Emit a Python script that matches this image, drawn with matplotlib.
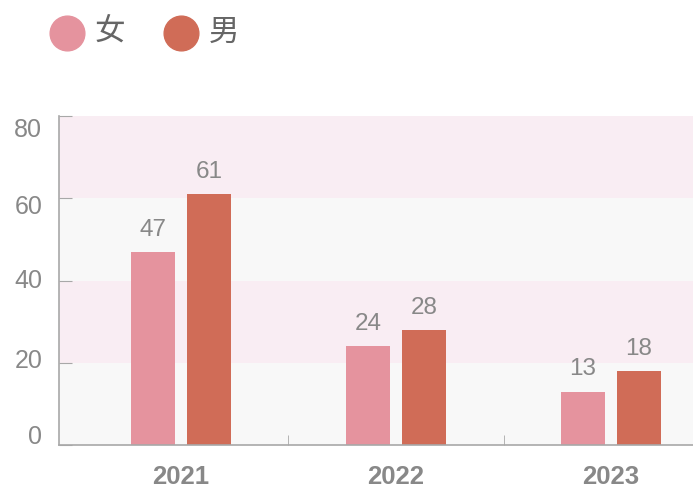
import matplotlib.pyplot as plt
import numpy as np
from matplotlib.lines import Line2D
from matplotlib.transforms import offset_copy

plt.rcParams['font.family'] = ['Liberation Sans', 'Noto Sans CJK SC', 'DejaVu Sans']

years = ['2021', '2022', '2023']
female = [47, 24, 13]
male = [61, 28, 18]
series_names = ['女', '男']
colors = ['#e5939e', '#d06c57']
yticks = [0, 20, 40, 60, 80]

text_gray = '#888888'
axis_gray = '#a8a8a8'

W, H = 693, 488
fig = plt.figure(figsize=(W / 100, H / 100), dpi=100)
ax = fig.add_axes([59 / W, 43 / H, 634 / W, 329 / H])

x = np.arange(len(years))
w = 0.205
off = 0.13

# alternating background bands
for i, lo in enumerate(yticks[:-1]):
    ax.axhspan(lo, lo + 20, color='#f8f8f8' if i % 2 == 0 else '#f9edf3', zorder=0, lw=0)

b1 = ax.bar(x - off, female, w, color=colors[0], zorder=2)
b2 = ax.bar(x + off, male, w, color=colors[1], zorder=2)

for bars, vals in ((b1, female), (b2, male)):
    for b, v in zip(bars, vals):
        ax.annotate(str(v), (b.get_x() + b.get_width() / 2, v), xytext=(0, 8),
                    textcoords='offset points', ha='center', va='bottom',
                    fontsize=17.5, color=text_gray)

ax.set_xlim(-0.567, 2.381)
ax.set_ylim(0, 80)
ax.set_yticks(yticks)
ax.set_yticklabels([])
ax.tick_params(axis='y', direction='in', length=9, color=axis_gray)

# y labels are nudged toward the middle like in the original
nudge = [-6, -1, 0, 6, 10]  # points, negative = up
for v, d in zip(yticks, nudge):
    tr = offset_copy(ax.get_yaxis_transform(), fig=fig, x=-12, y=-d, units='points')
    ax.text(0, v, str(v), transform=tr, ha='right', va='center',
            fontsize=18, color=text_gray)

ax.set_xticks(x)
ax.set_xticklabels(years, fontsize=18.5, fontweight='bold', color=text_gray)
ax.set_xticks([0.5, 1.5], minor=True)
ax.tick_params(axis='x', which='major', length=0, pad=14.5)
ax.tick_params(axis='x', which='minor', direction='in', length=7, color=axis_gray)

for s in ('top', 'right'):
    ax.spines[s].set_visible(False)
for s in ('left', 'bottom'):
    ax.spines[s].set_color(axis_gray)
    ax.spines[s].set_linewidth(1.2)

# legend drawn by hand
leg_x = [67, 181]
leg_y = 1 - 33 / H
for px, name, c in zip(leg_x, series_names, colors):
    fig.add_artist(Line2D([px / W], [leg_y], marker='o', markersize=25, color=c,
                          ls='', transform=fig.transFigure))
    fig.text((px + 28) / W, leg_y, name, ha='left', va='center',
             fontsize=22, color='#666666')

plt.savefig('out.png', dpi=100)
